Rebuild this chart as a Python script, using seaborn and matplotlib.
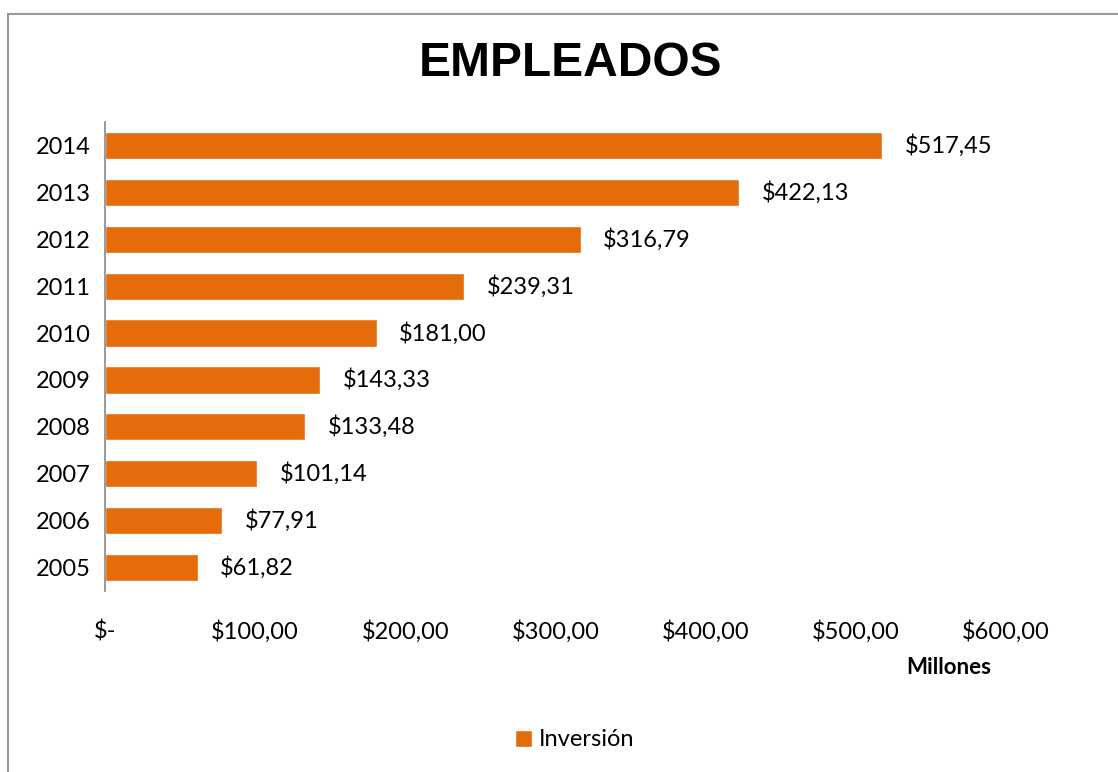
import matplotlib
matplotlib.use("Agg")
import matplotlib.pyplot as plt
import seaborn as sns
import pandas as pd
from matplotlib.patches import Rectangle, Patch

years = ["2014", "2013", "2012", "2011", "2010", "2009", "2008", "2007", "2006", "2005"]
inversion = [517.45, 422.13, 316.79, 239.31, 181.00, 143.33, 133.48, 101.14, 77.91, 61.82]
x_ticks = [0, 100, 200, 300, 400, 500, 600]
x_labels = ["$-", "$100,00", "$200,00", "$300,00", "$400,00", "$500,00", "$600,00"]

ORANGE = "#E46C0A"

sns.set_style("white")
plt.rcParams["font.family"] = ["Lato", "DejaVu Sans"]
plt.rcParams["text.color"] = "black"
plt.rcParams["xtick.color"] = "black"
plt.rcParams["ytick.color"] = "black"

df = pd.DataFrame({"year": years, "value": inversion})

fig = plt.figure(figsize=(11.18, 7.72), dpi=100, facecolor="white")
ax = fig.add_axes([105 / 1118, 1 - 591 / 772, (1006 - 105) / 1118, (591 - 122) / 772])

sns.barplot(data=df, x="value", y="year", order=years, color=ORANGE,
            saturation=1, width=0.58, ax=ax)

for i, v in enumerate(inversion):
    ax.text(v + 15, i, "$" + f"{v:.2f}".replace(".", ","), va="center", ha="left",
            fontsize=17, color="black")

ax.set_xlim(0, 600)
ax.set_ylim(len(years) - 0.5, -0.5)
ax.set_xticks(x_ticks)
ax.set_xticklabels(x_labels, fontsize=17)
ax.tick_params(axis="y", labelsize=17, length=0, pad=10)
ax.tick_params(axis="x", length=0, pad=21)
ax.set_xlabel("")
ax.set_ylabel("")
for side in ["top", "right", "bottom"]:
    ax.spines[side].set_visible(False)
ax.spines["left"].set_color("#888888")
ax.spines["left"].set_linewidth(1.2)

fig.text(570 / 1118, 1 - 64 / 772, "EMPLEADOS", ha="center", va="center",
         fontsize=34.5, fontweight="bold", color="black",
         family=["Liberation Sans", "DejaVu Sans"])
fig.text(949 / 1118, 1 - 667 / 772, "Millones", ha="center", va="center",
         fontsize=16, fontweight="bold")

fig.legend(handles=[Patch(facecolor=ORANGE, label="Inversión")],
           loc="center", bbox_to_anchor=(575 / 1118, 1 - 740 / 772), frameon=False,
           fontsize=17, handlelength=0.7, handleheight=0.7, handletextpad=0.3)

fig.patches.append(Rectangle((8 / 1118, -0.1), 1.2, 1 - 14 / 772 + 0.1,
                             transform=fig.transFigure, fill=False,
                             edgecolor="#999999", linewidth=1.5))

fig.savefig("out.png", dpi=100, facecolor="white")
